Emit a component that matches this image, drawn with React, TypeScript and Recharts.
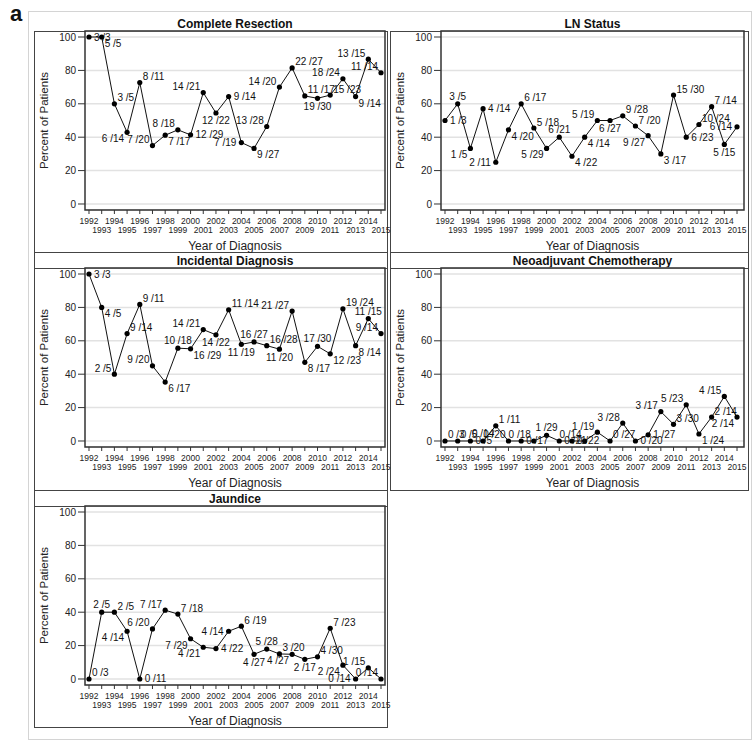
import {
  LineChart,
  Line,
  XAxis,
  YAxis,
  CartesianGrid,
  ReferenceArea,
  LabelList,
} from 'recharts'

const years = [
  1992, 1993, 1994, 1995, 1996, 1997, 1998, 1999, 2000, 2001, 2002, 2003,
  2004, 2005, 2006, 2007, 2008, 2009, 2010, 2011, 2012, 2013, 2014, 2015,
]
const yTicks = [0, 20, 40, 60, 80, 100]

const resectionPct = [100, 100, 60, 42.9, 72.7, 35, 41.2, 44.4, 41.4, 66.7, 54.5, 64.3, 36.8, 33.3, 46.4, 70, 81.5, 64.7, 63.3, 65.2, 75, 64.3, 86.7, 78.6]
const resectionLabels = ['3 /3', '5 /5', '3 /5', '6 /14', '8 /11', '7 /20', '7 /17', '8 /18', '12 /29', '14 /21', '12 /22', '9 /14', '7 /19', '9 /27', '13 /28', '14 /20', '22 /27', '11 /17', '19 /30', '15 /23', '18 /24', '9 /14', '13 /15', '11 /14']

const lnPct = [50, 60, 33.3, 57.1, 25, 44.4, 60, 45.5, 33.3, 40, 28.6, 40, 50, 50, 52.8, 46.7, 40.9, 30, 65.2, 40, 47.6, 58.3, 35.7, 46.2]
const lnLabels = ['1 /3', '3 /5', '1 /5', '4 /14', '2 /11', '4 /20', '6 /17', '5 /18', '5 /29', '6 /21', '4 /22', '4 /14', '5 /19', '6 /27', '9 /28', '7 /20', '9 /27', '3 /17', '15 /30', '6 /23', '10 /24', '7 /14', '5 /15', '6 /14']

const incidentalPct = [100, 80, 40, 64.3, 81.8, 45, 35.3, 55.6, 55.2, 66.7, 63.6, 78.6, 57.9, 59.3, 57.1, 55, 77.8, 47.1, 56.7, 52.2, 79.2, 57.1, 73.3, 64.3]
const incidentalLabels = ['3 /3', '4 /5', '2 /5', '9 /14', '9 /11', '9 /20', '6 /17', '10 /18', '16 /29', '14 /21', '14 /22', '11 /14', '11 /19', '16 /27', '16 /28', '11 /20', '21 /27', '8 /17', '17 /30', '12 /23', '19 /24', '8 /14', '11 /15', '9 /14']

const neoPct = [0, 0, 0, 0, 9.1, 0, 0, 0, 3.4, 0, 0, 0, 5.3, 0, 10.7, 0, 3.7, 17.6, 10, 21.7, 4.2, 14.3, 26.7, 14.3]
const neoLabels = ['0 /3', '0 /5', '0 /5', '0 /14', '1 /11', '0 /20', '0 /17', '0 /18', '1 /29', '0 /21', '0 /22', '0 /14', '1 /19', '0 /27', '3 /28', '0 /20', '1 /27', '3 /17', '3 /30', '5 /23', '1 /24', '2 /14', '4 /15', '2 /14']

const jaundicePct = [0, 40, 40, 28.6, 0, 30, 41.2, 38.9, 24.1, 19, 18.2, 28.6, 31.6, 14.8, 17.9, 15, 14.8, 11.8, 13.3, 30.4, 8.3, 0, 6.7, 0]
const jaundiceLabels = ['0 /3', '2 /5', '2 /5', '4 /14', '0 /11', '6 /20', '7 /17', '7 /18', '7 /29', '4 /21', '4 /22', '4 /14', '6 /19', '4 /27', '5 /28', '3 /20', '4 /27', '2 /17', '4 /30', '7 /23', '2 /24', '0 /14', '1 /15', '0 /14']

// where each point label sits relative to its marker (avoids overlaps like the original)
const resectionPos = ['r', 'br', 'tr', 'bl', 'tr', 'tl', 'br', 'tl', 'r', 'tl', 'b', 'r', 'l', 'br', 'tl', 'tl', 'tr', 'tr', 'b', 'tr', 'tl', 'br', 'tl', 'tl']
const lnPos = ['r', 't', 'bl', 'r', 'l', 'br', 'tr', 'tr', 'bl', 't', 'br', 'br', 'tl', 'b', 'tr', 'tr', 'bl', 'br', 'tr', 'r', 'tr', 'tr', 'b', 'l']
const incidentalPos = ['r', 'br', 'tl', 'tr', 'tr', 'tl', 'br', 't', 'br', 'tl', 'b', 'tr', 'b', 't', 'tr', 'b', 'tl', 'br', 't', 'br', 'tr', 'br', 't', 'tl']
const neoPos = ['tr', 'tr', 'r', 't', 'tr', 'tl', 'r', 'tl', 't', 'r', 'r', 'tl', 'tl', 'tr', 'tl', 'r', 'r', 'tl', 'tr', 'tl', 'br', 'tr', 'tl', 'bl']
const jaundicePos = ['tr', 't', 'tr', 'bl', 'r', 'tl', 'tl', 'tr', 'bl', 'bl', 'r', 'l', 'tr', 'b', 't', 'tr', 'bl', 'b', 'tr', 'tr', 'bl', 'l', 'tl', 'tl']

const FONT = '"Liberation Sans", Arial, Helvetica, sans-serif'
const PLOT_H = 179
const Y_AXIS_W = 55
const X_AXIS_H = 45
const TOP_PAD = 10
const Y_DOMAIN: [number, number] = [-3.6, 103.6]

const OFFSETS: Record<string, [number, number, 'start' | 'middle' | 'end']> = {
  tr: [3, -2.5, 'start'],
  tl: [-3, -2.5, 'end'],
  br: [3, 10, 'start'],
  bl: [-3, 10, 'end'],
  r: [5, 3.5, 'start'],
  l: [-5, 3.5, 'end'],
  t: [0, -4, 'middle'],
  b: [0, 11.5, 'middle'],
}

const pointLabel = (pos: string[]) => (props: any) => {
  const { x, y, value, index } = props
  const [dx, dy, anchor] = OFFSETS[pos[index]] ?? OFFSETS.tr
  return (
    <text x={x + dx} y={y + dy} textAnchor={anchor} fontSize={10} fill="#111" fontFamily={FONT}>
      {value}
    </text>
  )
}

function YearTick({ x, y, payload }: any) {
  const odd = payload.value % 2 === 1
  return (
    <text x={x} y={y + (odd ? 17 : 8)} textAnchor="middle" fontSize={8.5} fill="#222" fontFamily={FONT}>
      {payload.value}
    </text>
  )
}

interface PanelProps {
  title: string
  pct: number[]
  labels: string[]
  pos: string[]
  left: number
  top: number
  width: number
  xMax: number
}

function Panel({ title, pct, labels, pos, left, top, width, xMax }: PanelProps) {
  const rows = years.map((year, i) => ({ year, pct: pct[i], label: labels[i] }))
  const xDomain: [number, number] = [1991.685, xMax]
  const chartW = Y_AXIS_W + width + 10
  const chartH = TOP_PAD + PLOT_H + X_AXIS_H
  return (
    <>
      <div
        style={{
          position: 'absolute',
          left,
          top: top - 14,
          width,
          textAlign: 'center',
          fontSize: 12,
          fontWeight: 'bold',
          lineHeight: '14px',
          color: '#111',
        }}
      >
        {title}
      </div>
      <div style={{ position: 'absolute', left: left - Y_AXIS_W, top: top - TOP_PAD }}>
        <LineChart
          width={chartW}
          height={chartH}
          data={rows}
          margin={{ top: TOP_PAD, right: 10, bottom: 0, left: 0 }}
        >
          <CartesianGrid vertical={false} stroke="#e2e2e2" strokeWidth={1.5} />
          <XAxis
            dataKey="year"
            type="number"
            domain={xDomain}
            ticks={years}
            interval={0}
            height={X_AXIS_H}
            axisLine={false}
            tickSize={4}
            tickMargin={2}
            tickLine={{ stroke: '#333' }}
            tick={<YearTick />}
            label={() => (
              <text
                x={Y_AXIS_W + width / 2}
                y={TOP_PAD + PLOT_H + 40}
                textAnchor="middle"
                fontSize={12}
                fill="#222"
                fontFamily={FONT}
              >
                Year of Diagnosis
              </text>
            )}
          />
          <YAxis
            type="number"
            domain={Y_DOMAIN}
            ticks={yTicks}
            width={Y_AXIS_W}
            axisLine={false}
            tickSize={7}
            tickMargin={2}
            tickLine={{ stroke: '#333' }}
            tick={{ fontSize: 10, fill: '#222', fontFamily: FONT }}
            allowDataOverflow
            label={() => (
              <text
                transform={`translate(18, ${TOP_PAD + PLOT_H / 2}) rotate(-90)`}
                textAnchor="middle"
                fontSize={11.5}
                fill="#222"
                fontFamily={FONT}
              >
                Percent of Patients
              </text>
            )}
          />
          <ReferenceArea
            x1={xDomain[0]}
            x2={xDomain[1]}
            y1={Y_DOMAIN[0]}
            y2={Y_DOMAIN[1]}
            fill="none"
            stroke="#333"
            strokeWidth={1.5}
          />
          <Line
            dataKey="pct"
            stroke="#111"
            strokeWidth={1}
            dot={{ r: 2.6, fill: '#000', stroke: '#000', strokeWidth: 0 }}
            isAnimationActive={false}
          >
            <LabelList dataKey="label" content={pointLabel(pos)} />
          </Line>
        </LineChart>
      </div>
    </>
  )
}

const cellBorder = '1.5px solid #444'

function Cell({ left, top, width, height }: { left: number; top: number; width: number; height: number }) {
  return (
    <div style={{ position: 'absolute', left, top, width, height, border: cellBorder, boxSizing: 'border-box' }} />
  )
}

function Rule({ left, top, width }: { left: number; top: number; width: number }) {
  return <div style={{ position: 'absolute', left, top, width, height: 0, borderTop: cellBorder }} />
}

export default function App() {
  return (
    <div
      style={{
        position: 'absolute',
        left: 0,
        top: 0,
        width: 755,
        height: 742,
        background: '#fff',
        fontFamily: FONT,
        overflow: 'hidden',
      }}
    >
      <div style={{ position: 'absolute', left: 28, top: 11, width: 722, height: 727, border: '1px solid #d4d4d4' }} />
      <div style={{ position: 'absolute', left: 10, top: 1, fontSize: 22, fontWeight: 'bold', lineHeight: '26px', color: '#111' }}>
        a
      </div>

      <Cell left={34} top={31} width={354} height={222} />
      <Cell left={390} top={31} width={359} height={222} />
      <Cell left={34} top={252} width={354} height={239} />
      <Cell left={390} top={252} width={359} height={239} />
      <Cell left={34} top={490} width={354} height={238} />
      <Rule left={34} top={268} width={354} />
      <Rule left={390} top={268} width={359} />
      <Rule left={34} top={506} width={354} />

      <Panel title="Complete Resection" pct={resectionPct} labels={resectionLabels} pos={resectionPos} left={85} top={31} width={300} xMax={2015.315} />
      <Panel title="LN Status" pct={lnPct} labels={lnLabels} pos={lnPos} left={441} top={31} width={303} xMax={2015.55} />
      <Panel title="Incidental Diagnosis" pct={incidentalPct} labels={incidentalLabels} pos={incidentalPos} left={85} top={268} width={300} xMax={2015.315} />
      <Panel title="Neoadjuvant Chemotherapy" pct={neoPct} labels={neoLabels} pos={neoPos} left={441} top={268} width={303} xMax={2015.55} />
      <Panel title="Jaundice" pct={jaundicePct} labels={jaundiceLabels} pos={jaundicePos} left={85} top={506} width={300} xMax={2015.315} />
    </div>
  )
}
